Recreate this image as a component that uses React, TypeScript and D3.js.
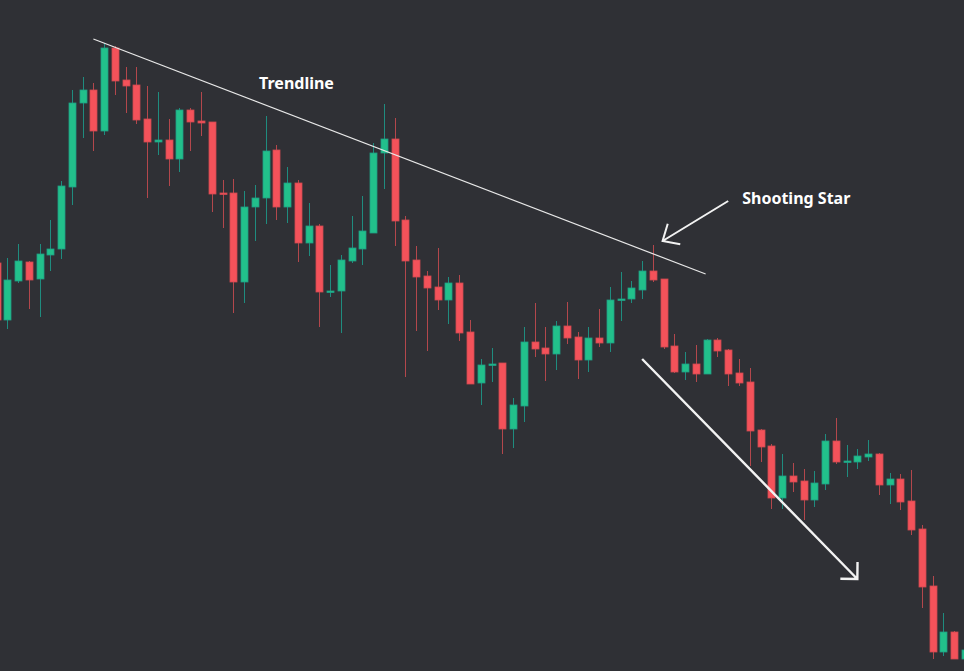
import * as React from "react";
import * as d3 from "d3";

// candle index -1 is the partial bar on the left edge
const FIRST_INDEX = -1;

const OPEN = [
  143.7, 138.0, 141.9, 143.8, 142.1, 144.5, 145.1, 151.3, 159.7, 161.0, 156.9, 165.2, 162.0, 161.5, 158.1, 155.8,
  156.0, 154.1, 159.0, 157.9, 157.8, 150.7, 150.7, 141.8, 149.3, 150.2, 155.0, 149.3, 151.7, 145.7, 147.4, 140.8,
  140.9, 143.9, 145.1, 146.7, 154.7, 156.1, 148.0, 144.0, 142.4, 141.3, 140.0, 141.7, 136.8, 131.7, 133.5, 133.7,
  127.1, 129.4, 135.8, 135.2, 134.6, 137.4, 136.3, 134.0, 136.2, 135.7, 140.0, 140.1, 141.0, 142.9, 142.1, 135.4,
  132.8, 133.6, 132.6, 136.0, 135.0, 132.7, 131.8, 127.0, 125.4, 120.2, 122.4, 121.9, 120.0, 121.6, 125.9, 123.8,
  123.8, 124.3, 124.6, 121.5, 122.1, 119.9, 117.1, 111.4, 104.8, 106.8, 104.1,
];
const HIGH = [
  144.2, 144.2, 145.6, 143.9, 145.6, 148.0, 151.9, 161.0, 162.3, 161.7, 165.7, 165.4, 163.3, 163.3, 161.4, 160.8,
  158.1, 159.2, 159.2, 160.8, 157.8, 152.0, 152.1, 150.9, 151.5, 158.4, 155.5, 153.3, 152.0, 149.7, 147.6, 143.5,
  144.5, 148.4, 150.4, 155.7, 159.6, 158.2, 148.4, 145.4, 142.9, 145.2, 142.3, 142.5, 138.0, 134.1, 135.2, 133.7,
  130.2, 137.3, 139.7, 137.3, 137.9, 139.8, 136.8, 137.3, 139.1, 141.3, 142.8, 141.9, 143.9, 145.5, 142.1, 136.6,
  134.8, 135.5, 136.1, 136.2, 135.1, 134.1, 133.2, 127.1, 125.6, 124.6, 123.7, 123.1, 122.9, 126.6, 128.2, 125.5,
  125.1, 126.0, 124.7, 122.7, 122.6, 123.0, 117.5, 112.4, 108.7, 106.9, 105.2,
];
const LOW = [
  137.5, 137.1, 141.7, 139.1, 138.3, 142.9, 144.1, 149.5, 156.2, 154.9, 156.5, 160.5, 158.7, 157.6, 150.2, 154.5,
  151.4, 152.8, 154.9, 156.4, 148.8, 147.2, 138.7, 139.7, 145.9, 147.6, 148.0, 147.7, 143.8, 144.4, 137.3, 140.3,
  136.7, 143.7, 143.5, 146.7, 151.1, 145.4, 132.3, 136.9, 134.9, 139.0, 137.6, 135.9, 131.6, 129.5, 131.8, 124.6,
  125.2, 127.8, 134.3, 131.9, 133.0, 135.6, 132.1, 132.8, 135.3, 134.8, 137.9, 139.7, 140.1, 141.8, 135.1, 132.7,
  132.0, 131.8, 132.6, 134.3, 131.4, 131.4, 123.4, 123.8, 119.1, 119.1, 120.8, 118.0, 119.3, 121.0, 123.6, 122.3,
  123.1, 123.9, 120.5, 119.6, 119.0, 116.5, 109.2, 104.1, 104.4, 104.1, 103.9,
];
const CLOSE = [
  138.0, 142.0, 143.9, 142.0, 144.6, 145.1, 151.4, 159.7, 161.0, 156.9, 165.2, 161.9, 161.4, 158.0, 155.8, 156.0,
  154.1, 159.0, 157.8, 157.7, 150.6, 150.6, 141.8, 149.3, 150.2, 154.9, 149.3, 151.7, 145.7, 147.4, 140.8, 140.9,
  144.0, 145.2, 146.9, 154.7, 156.1, 147.9, 143.9, 142.3, 141.2, 140.0, 141.7, 136.7, 131.6, 133.5, 133.6, 127.1,
  129.5, 135.8, 135.1, 134.6, 137.4, 136.2, 134.0, 136.2, 135.7, 140.0, 140.1, 141.2, 142.9, 142.0, 135.3, 132.8,
  133.6, 132.6, 136.0, 134.9, 132.6, 131.7, 126.9, 125.3, 120.2, 122.4, 121.8, 120.0, 121.7, 125.9, 123.8, 123.9,
  124.4, 124.6, 121.5, 122.1, 119.8, 117.0, 111.3, 104.8, 106.8, 104.1, 105.0,
];

// annotations, in candle index / price
const TRENDLINE = [[8, 166.1], [64.9, 142.6]];
const STAR_ARROW = [[67, 149.9], [60.9, 145.9]]; // from -> tip
const DOWN_ARROW = [[59, 134.1], [79, 112.1]];
const LABELS = [
  { text: "Trendline", at: [23.4, 161.1] },
  { text: "Shooting Star", at: [68.3, 149.6] },
];

const W = 964;
const H = 671;
const BG = "#2f3035";
const UP = "#22c08b";
const UP_EDGE = "#1e9e84";
const UP_WICK = "#1f8c7f";
const DOWN = "#f4525a";
const DOWN_EDGE = "#d04a50";
const DOWN_WICK = "#b3474c";

export default function App() {
  const ref = React.useRef<SVGSVGElement | null>(null);

  React.useEffect(() => {
    document.body.style.margin = "0";
    if (!ref.current) return;
    const svg = d3.select(ref.current);
    svg.selectAll("*").remove();

    const n = OPEN.length;
    const x = d3
      .scaleLinear()
      .domain([FIRST_INDEX, FIRST_INDEX + n - 1])
      .range([-3.46, 964.94]);
    const y = d3.scaleLinear().domain([170, 102.9]).range([0, H]);
    const bodyW = 7;

    svg.append("rect").attr("width", W).attr("height", H).attr("fill", BG);

    const candles = d3.range(n).map((k) => ({
      i: FIRST_INDEX + k,
      o: OPEN[k],
      h: HIGH[k],
      l: LOW[k],
      c: CLOSE[k],
    }));

    const g = svg.append("g");
    const bar = g
      .selectAll("g.candle")
      .data(candles)
      .join("g")
      .attr("class", "candle");

    bar
      .append("line")
      .attr("x1", (d) => Math.round(x(d.i)) + 0.5)
      .attr("x2", (d) => Math.round(x(d.i)) + 0.5)
      .attr("y1", (d) => y(d.h))
      .attr("y2", (d) => y(d.l))
      .attr("stroke", (d) => (d.c >= d.o ? UP_WICK : DOWN_WICK))
      .attr("stroke-width", 1);

    bar
      .append("rect")
      .attr("x", (d) => Math.round(x(d.i)) + 0.5 - bodyW / 2)
      .attr("y", (d) => y(Math.max(d.o, d.c)))
      .attr("width", bodyW)
      .attr("height", (d) => Math.max(1.5, Math.abs(y(d.o) - y(d.c))))
      .attr("fill", (d) => (d.c >= d.o ? UP : DOWN))
      .attr("stroke", (d) => (d.c >= d.o ? UP_EDGE : DOWN_EDGE))
      .attr("stroke-width", 0.8);

    // trendline
    const line = d3
      .line<number[]>()
      .x((p) => x(p[0]))
      .y((p) => y(p[1]));
    svg
      .append("path")
      .attr("d", line(TRENDLINE) as string)
      .attr("stroke", "#e8e8e8")
      .attr("stroke-width", 1.2)
      .attr("fill", "none");

    function arrow(pts: number[][], width: number, head: number, spread: number) {
      const [x0, y0] = [x(pts[0][0]), y(pts[0][1])];
      const [x1, y1] = [x(pts[1][0]), y(pts[1][1])];
      const back = Math.atan2(y0 - y1, x0 - x1);
      const a1 = back - spread;
      const a2 = back + spread;
      const path = d3.path();
      path.moveTo(x0, y0);
      path.lineTo(x1, y1);
      path.moveTo(x1 + Math.cos(a1) * head, y1 + Math.sin(a1) * head);
      path.lineTo(x1, y1);
      path.lineTo(x1 + Math.cos(a2) * head, y1 + Math.sin(a2) * head);
      svg
        .append("path")
        .attr("d", path.toString())
        .attr("stroke", "#f2f2f2")
        .attr("stroke-width", width)
        .attr("stroke-linejoin", "miter")
        .attr("fill", "none");
    }

    arrow(STAR_ARROW, 2, 18, (42 * Math.PI) / 180);
    arrow(DOWN_ARROW, 2.4, 17, Math.PI / 4);

    svg
      .selectAll("text.label")
      .data(LABELS)
      .join("text")
      .attr("class", "label")
      .attr("x", (d) => x(d.at[0]))
      .attr("y", (d) => y(d.at[1]))
      .attr("fill", "#ffffff")
      .attr("font-family", "'Noto Sans', 'Open Sans', sans-serif")
      .attr("font-weight", 700)
      .attr("font-size", 16)
      .text((d) => d.text);
  }, []);

  return (
    <div style={{ position: "absolute", left: 0, top: 0, width: W, height: H, background: BG }}>
      <svg ref={ref} width={W} height={H} style={{ display: "block" }} />
    </div>
  );
}
